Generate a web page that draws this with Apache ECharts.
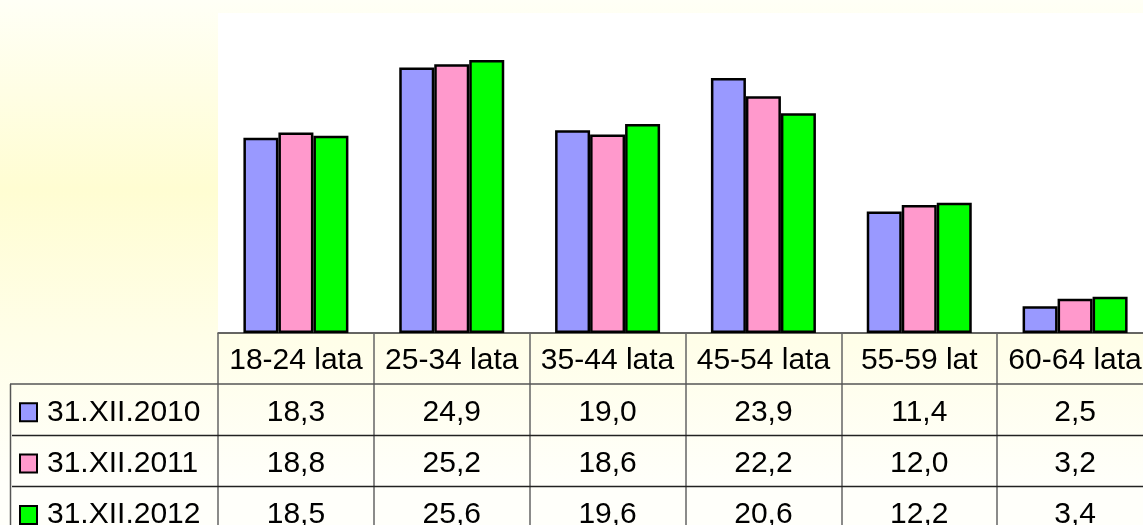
<!DOCTYPE html>
<html><head><meta charset="utf-8">
<script src="https://cdn.jsdelivr.net/npm/echarts@6/dist/echarts.min.js"></script>
<style>
html,body{margin:0;padding:0;}
#c{width:1143px;height:525px;background:linear-gradient(to bottom,#FFFFF6 0%,#FFFDD2 36%,#FFFEE8 64%,#FFFFFA 92%);}
</style>
</head><body><div id="c"></div>
<script>
const categories = ['18-24 lata','25-34 lata','35-44 lata','45-54 lata','55-59 lat','60-64 lata'];
const seriesNames = ['31.XII.2010','31.XII.2011','31.XII.2012'];
const values2010 = [18.3, 24.9, 19.0, 23.9, 11.4, 2.5];
const values2011 = [18.8, 25.2, 18.6, 22.2, 12.0, 3.2];
const values2012 = [18.5, 25.6, 19.6, 20.6, 12.2, 3.4];
const seriesValues = [values2010, values2011, values2012];
const colors = ['#9999FF', '#FF99CC', '#00FF00'];

const FONT = "'Liberation Sans', Arial, sans-serif";
const FS = 30;
const GRID_BOTTOM_Y = 333;
const ROW_H = 51.3;
const LABEL_MARGIN = 28;
const fmt = v => v.toFixed(1).replace('.', ',');

const chart = echarts.init(document.getElementById('c'), null, {renderer: 'canvas'});

const xAxes = [{
  type: 'category', data: categories, gridIndex: 0, position: 'bottom',
  axisLine: {show: true, lineStyle: {color: '#333', width: 1.5}},
  axisTick: {show: true, alignWithLabel: false, length: 192, lineStyle: {color: '#666', width: 1.5}},
  axisLabel: {interval: 0, margin: LABEL_MARGIN, verticalAlign: 'middle', color: '#000', fontSize: FS, fontFamily: FONT, hideOverlap: false},
  splitLine: {show: false}
}];
seriesValues.forEach((vals, r) => {
  xAxes.push({
    type: 'category', data: categories, gridIndex: 0, position: 'bottom', offset: 0,
    axisLine: {show: false}, axisTick: {show: false}, splitLine: {show: false},
    axisLabel: {interval: 0, margin: LABEL_MARGIN + ROW_H * (r + 1), verticalAlign: 'middle', color: '#000',
      fontSize: FS, fontFamily: FONT, hideOverlap: false, formatter: (v, i) => fmt(vals[i])}
  });
});

const graphic = [];
// horizontal table lines
const hLines = [[10, 384, '#555'], [12, 435.5, '#222'], [12, 486.5, '#222']];
hLines.forEach(([x0, y, c]) => graphic.push({type: 'line', shape: {x1: x0, y1: y, x2: 1143, y2: y}, style: {stroke: c, lineWidth: 1.5}, z: 10}));
// left border of legend column
graphic.push({type: 'line', shape: {x1: 10.5, y1: 384, x2: 10.5, y2: 525}, style: {stroke: '#555', lineWidth: 1.5}, z: 10});
// legend cells
seriesNames.forEach((name, r) => {
  const cy = GRID_BOTTOM_Y + LABEL_MARGIN + ROW_H * (r + 1);
  graphic.push({type: 'rect', shape: {x: 20, y: cy - 9, width: 17, height: 18}, style: {fill: colors[r], stroke: '#000', lineWidth: 2}, z: 10});
  graphic.push({type: 'text', x: 47, y: cy, style: {text: name, fill: '#000', font: FS + 'px ' + FONT, textVerticalAlign: 'middle', verticalAlign: 'middle'}, z: 10});
});

chart.setOption({
  animation: false,
  grid: {left: 218, top: 13, width: 935, height: 320, show: true, backgroundColor: '#FFFFFF', borderWidth: 0,
    containLabel: false, outerBoundsMode: 'none'},
  xAxis: xAxes,
  yAxis: {type: 'value', min: 0, max: 30, show: false, splitLine: {show: false}},
  series: seriesValues.map((vals, r) => ({
    type: 'bar', name: seriesNames[r], data: vals, xAxisIndex: 0,
    barWidth: 35, barGap: '0%',
    itemStyle: {color: colors[r], borderColor: '#000', borderWidth: 2.5}
  })),
  graphic: graphic
});
</script>
</body></html>
